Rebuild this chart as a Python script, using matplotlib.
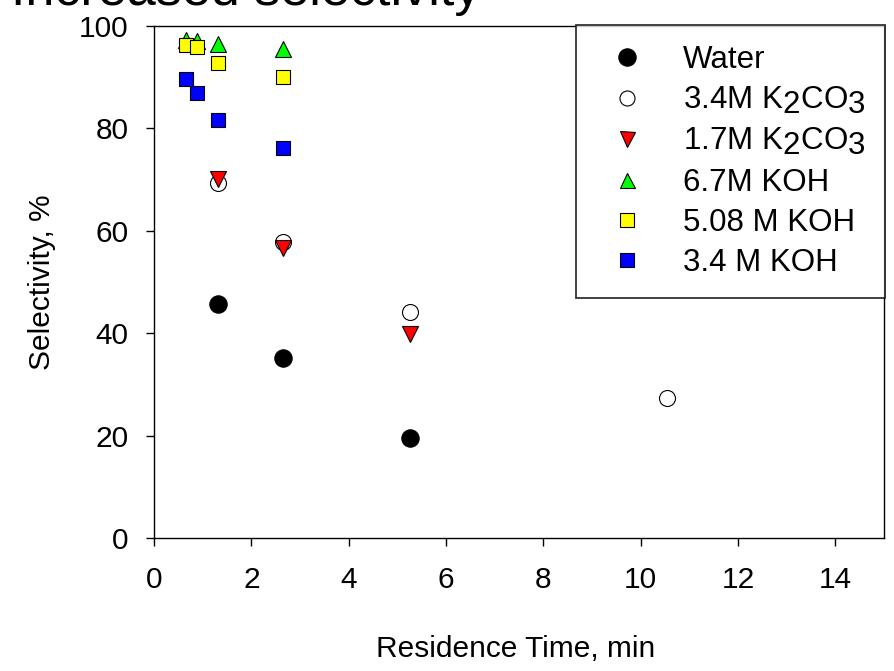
import matplotlib
matplotlib.use("Agg")
import matplotlib.pyplot as plt
import matplotlib._mathtext as mathtext_internals

plt.rcParams['font.family'] = ['Liberation Sans', 'DejaVu Sans']
plt.rcParams['mathtext.default'] = 'regular'
# full-size subscripts for the chemical formulas
mathtext_internals.SHRINK_FACTOR = 1.0

# residence time (min) and selectivity (%) per feed
water_t = [1.32, 2.64, 5.27]
water_s = [45.7, 35.1, 19.5]

k2co3_34_t = [1.32, 2.64, 5.27, 10.55]
k2co3_34_s = [69.4, 57.9, 44.2, 27.4]

k2co3_17_t = [1.32, 2.64, 5.27]
k2co3_17_s = [70.2, 56.6, 39.8]

koh_67_t = [0.66, 0.88, 1.32, 2.64]
koh_67_s = [97.2, 97.0, 96.5, 95.5]

koh_508_t = [0.66, 0.88, 1.32, 2.64]
koh_508_s = [96.3, 95.9, 92.8, 90.1]

koh_34_t = [0.66, 0.88, 1.32, 2.64]
koh_34_s = [89.7, 86.9, 81.6, 76.2]

labels = ['Water', '3.4M K$_2$CO$_3$', '1.7M K$_2$CO$_3$',
          '6.7M KOH', '5.08 M KOH', '3.4 M KOH']

fig = plt.figure(figsize=(8.94, 6.71), dpi=100)
ax = fig.add_axes([0.1723, 0.1982, 0.8165, 0.7631])

ms = dict(markeredgecolor='black', markeredgewidth=0.8, linestyle='none')
ax.plot(water_t, water_s, 'o', color='black', markersize=12.5, label=labels[0], **ms)
ax.plot(k2co3_34_t, k2co3_34_s, 'o', color='white', markersize=11.5, label=labels[1], **ms)
ax.plot(k2co3_17_t, k2co3_17_s, 'v', color='#ff0000', markersize=12, label=labels[2], **ms)
ax.plot(koh_67_t, koh_67_s, '^', color='#00ff00', markersize=12, label=labels[3], **ms)
ax.plot(koh_508_t, koh_508_s, 's', color='#ffff00', markersize=10.5, label=labels[4], **ms)
ax.plot(koh_34_t, koh_34_s, 's', color='#0000ff', markersize=10.5, label=labels[5], **ms)

ax.set_xlim(0, 15)
ax.set_ylim(0, 100)
ax.set_xticks(range(0, 15, 2))
ax.set_yticks(range(0, 101, 20))
ax.tick_params(axis='both', direction='out', length=5.5, width=1, labelsize=21.5,
               top=False, right=False)
ax.tick_params(axis='x', pad=15)
ax.tick_params(axis='y', pad=13)
for sp in ax.spines.values():
    sp.set_linewidth(1.0)

ax.set_xlabel('Residence Time, min', fontsize=21.5)
ax.set_ylabel('Selectivity, %', fontsize=21.5)
ax.xaxis.set_label_coords(0.495, -0.19)
ax.yaxis.set_label_coords(-0.134, 0.5)

leg = ax.legend(loc='upper right', bbox_to_anchor=(1.0015, 1.0015), borderaxespad=0,
                fontsize=22.5, frameon=True, fancybox=False, edgecolor='black',
                borderpad=0.62, handlelength=2.05, handletextpad=0.75,
                labelspacing=0.33, numpoints=1)
leg.get_frame().set_linewidth(1.3)
for h, size in zip(leg.legend_handles, [12.5, 10.8, 10.8, 10.8, 10, 10]):
    h.set_markersize(size)

fig.text(0.012, 0.992, 'Increased selectivity', fontsize=37.5, ha='left', va='baseline')

fig.savefig('out.png', dpi=100)
